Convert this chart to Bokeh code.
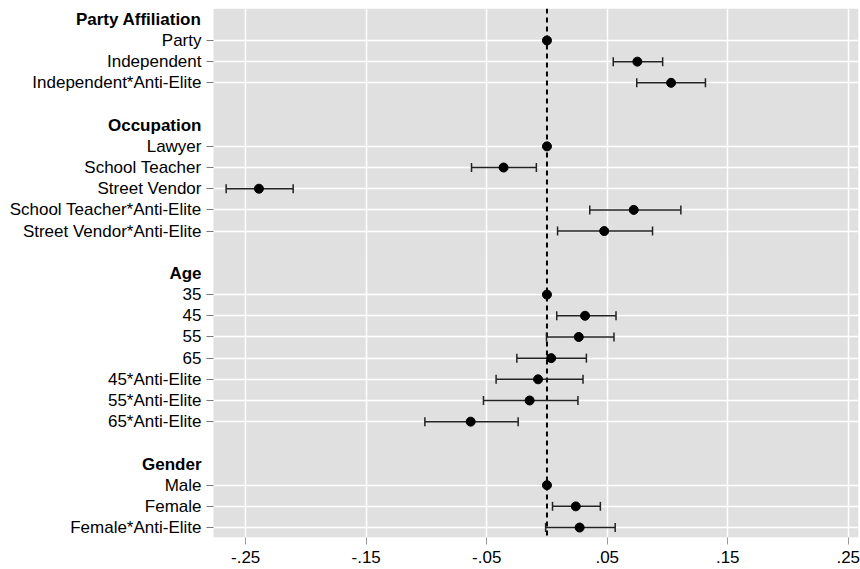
from bokeh.plotting import figure
from bokeh.models import (Range1d, FixedTicker, Span, Whisker, TeeHead,
                          ColumnDataSource, Label, BoxAnnotation)
from bokeh.embed import file_html
from bokeh.resources import INLINE

# ---- data ----
groups = ["Party Affiliation", "Occupation", "Age", "Gender"]
terms_party = ["Party", "Independent", "Independent*Anti-Elite"]
terms_occ = ["Lawyer", "School Teacher", "Street Vendor",
             "School Teacher*Anti-Elite", "Street Vendor*Anti-Elite"]
terms_age = ["35", "45", "55", "65", "45*Anti-Elite", "55*Anti-Elite", "65*Anti-Elite"]
terms_gender = ["Male", "Female", "Female*Anti-Elite"]

est_party = [0.0, 0.075, 0.103]
lo_party = [None, 0.055, 0.0745]
hi_party = [None, 0.096, 0.1315]

est_occ = [0.0, -0.036, -0.239, 0.072, 0.0475]
lo_occ = [None, -0.0626, -0.2662, 0.0355, 0.0088]
hi_occ = [None, -0.0088, -0.2106, 0.1111, 0.0876]

est_age = [0.0, 0.0316, 0.0264, 0.0035, -0.0074, -0.0144, -0.0633]
lo_age = [None, 0.0081, -0.0004, -0.025, -0.0422, -0.0527, -0.1013]
hi_age = [None, 0.0573, 0.0556, 0.0327, 0.0299, 0.0257, -0.0239]

est_gender = [0.0, 0.0239, 0.0271]
lo_gender = [None, 0.0046, -0.0011]
hi_gender = [None, 0.0443, 0.0566]

x_ticks = [-0.25, -0.15, -0.05, 0.05, 0.15, 0.25]
x_tick_labels = ["-.25", "-.15", "-.05", ".05", ".15", ".25"]

all_terms = [terms_party, terms_occ, terms_age, terms_gender]
all_est = [est_party, est_occ, est_age, est_gender]
all_lo = [lo_party, lo_occ, lo_age, lo_gender]
all_hi = [hi_party, hi_occ, hi_age, hi_gender]

# ---- row layout ----
header_rows = []
item_rows, item_labels, item_est = [], [], []
ci_y, ci_lo, ci_hi = [], [], []
row = 0
for g, terms, est, lo, hi in zip(groups, all_terms, all_est, all_lo, all_hi):
    header_rows.append(row)
    row += 1
    for t, e, l, h in zip(terms, est, lo, hi):
        item_rows.append(row)
        item_labels.append(t)
        item_est.append(e)
        if l is not None:
            ci_y.append(row)
            ci_lo.append(l)
            ci_hi.append(h)
        row += 1
    row += 1

FONT = "Liberation Sans"
FS = "17px"
# panel (plot region) limits in data units
x0, x1 = -0.2767, 0.2585
px_per_unit = 645 / (x1 - x0)
x_start = x0 - 213 / px_per_unit   # frame also covers the label area at left

p = figure(width=860, height=569, output_backend="svg", toolbar_location=None,
           x_range=Range1d(x_start, x1), y_range=Range1d(24.47, -0.51),
           min_border_left=0, min_border_right=2, min_border_top=8,
           min_border_bottom=32)
p.background_fill_color = "white"
p.border_fill_color = "white"
p.outline_line_color = None

# grey plot region
p.add_layout(BoxAnnotation(left=x0, fill_color="#e0e0e0", fill_alpha=1.0,
                           line_color=None, level="image"))

# x axis
p.xaxis.ticker = FixedTicker(ticks=x_ticks)
p.xaxis.major_label_overrides = {t: s for t, s in zip(x_ticks, x_tick_labels)}
p.xaxis.axis_line_color = None
p.xaxis.major_tick_line_color = "#999999"
p.xaxis.major_tick_out = 7
p.xaxis.major_tick_in = 0
p.xaxis.minor_tick_line_color = None
p.xaxis.major_label_text_font = FONT
p.xaxis.major_label_text_font_size = FS
p.xaxis.major_label_text_color = "black"
p.xaxis.major_label_standoff = 6

# y axis, drawn at the left edge of the grey region
p.yaxis.fixed_location = x0
p.yaxis.ticker = FixedTicker(ticks=item_rows)
p.yaxis.major_label_overrides = {r: s for r, s in zip(item_rows, item_labels)}
p.yaxis.axis_line_color = None
p.yaxis.major_tick_line_color = "#777777"
p.yaxis.major_tick_out = 7
p.yaxis.major_tick_in = 0
p.yaxis.minor_tick_line_color = None
p.yaxis.major_label_text_font = FONT
p.yaxis.major_label_text_font_size = FS
p.yaxis.major_label_text_color = "black"
p.yaxis.major_label_standoff = 5

# grids
p.xgrid.ticker = FixedTicker(ticks=x_ticks)
p.ygrid.ticker = FixedTicker(ticks=item_rows)
p.ygrid.bounds = (x0, x1)
p.xgrid.grid_line_color = "white"
p.ygrid.grid_line_color = "white"
p.xgrid.grid_line_width = 1.5
p.ygrid.grid_line_width = 1.5

# group headers
for g, r in zip(groups, header_rows):
    p.add_layout(Label(x=x0, x_offset=-12, y=r, text=g,
                       text_align="right", text_baseline="middle",
                       text_font=FONT, text_font_style="bold",
                       text_font_size=FS, text_color="black"))

# zero line
p.add_layout(Span(location=0, dimension="height", line_color="black",
                  line_width=2, line_dash="5 4", level="underlay"))

# confidence intervals
ci_src = ColumnDataSource(dict(y=ci_y, lo=ci_lo, hi=ci_hi))
wk = Whisker(source=ci_src, base="y", lower="lo", upper="hi", dimension="width",
             line_color="#222222", line_width=1.5,
             upper_head=TeeHead(size=9, line_color="#222222", line_width=1.5),
             lower_head=TeeHead(size=9, line_color="#222222", line_width=1.5))
p.add_layout(wk)

pt_src = ColumnDataSource(dict(y=item_rows, est=item_est))
p.scatter(x="est", y="y", source=pt_src, size=9, color="black")

open("out.html", "w").write(file_html(p, INLINE))
